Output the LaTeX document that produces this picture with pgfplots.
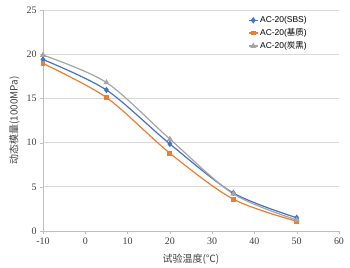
\documentclass[border=0pt]{standalone}
\usepackage{fontspec}
\setmainfont{Liberation Serif}
\newfontfamily\cjk{Noto Sans CJK SC}
\newfontfamily\lsans{Liberation Sans}
\usepackage{pgfplots}
\pgfplotsset{compat=1.18}
\definecolor{cblue}{HTML}{4472C4}
\definecolor{corange}{HTML}{ED7D31}
\definecolor{cgray}{HTML}{A5A5A5}
\definecolor{gridc}{HTML}{D9D9D9}
\definecolor{axc}{HTML}{BFBFBF}
\begin{document}
\begin{tikzpicture}
\path[use as bounding box] (-43bp,-37bp) rectangle (307bp,231bp);
\begin{axis}[
  scale only axis, width=296bp, height=221bp,
  at={(0,0)}, anchor=south west,
  xmin=-10, xmax=60, ymin=0, ymax=25,
  xtick={-10,0,...,60}, ytick={0,5,...,25},
  axis x line*=bottom, axis y line*=left,
  axis line style={axc, -},
  ymajorgrids, grid style={gridc, line width=0.8pt},
  major tick length=3pt,
  tick style={axc},
  xtick align=outside, ytick align=outside,
  tick label style={font=\fontsize{10}{11}\selectfont, text=black!75},
  /pgf/number format/assume math mode=true,
  xlabel={\cjk 试验温度(℃)}, ylabel={\cjk 动态模量(1000MPa)},
  label style={font=\fontsize{10}{11}\selectfont, text=black!75},
  xlabel style={yshift=-3bp},
  ylabel style={yshift=0bp},
  legend style={at={(0.69,0.985)}, anchor=north west, draw=none, fill=none,
    font=\lsans\fontsize{8.5}{9}\selectfont, row sep=0.5pt, inner sep=1pt},
  legend cell align=left,
  legend image code/.code={\draw[#1] (0cm,0cm) -- (0.3cm,0cm); \draw[#1, mark repeat=1] plot coordinates {(0.15cm,0cm)};},
]
\addplot[cblue, line width=1.2pt, smooth, mark=diamond*, mark size=2.3pt] coordinates {(-10,19.4) (5,15.95) (20,9.85) (35,4.3) (50,1.5)};
\addlegendentry{AC-20(SBS)}
\addplot[corange, line width=1.2pt, smooth, mark=square*, mark size=1.8pt] coordinates {(-10,18.95) (5,15.1) (20,8.8) (35,3.6) (50,1.1)};
\addlegendentry{AC-20({\cjk 基质})}
\addplot[cgray, line width=1.2pt, smooth, mark=triangle*, mark size=2.3pt] coordinates {(-10,19.9) (5,16.8) (20,10.4) (35,4.2) (50,1.25)};
\addlegendentry{AC-20({\cjk 炭黑})}
\end{axis}
\end{tikzpicture}
\end{document}
